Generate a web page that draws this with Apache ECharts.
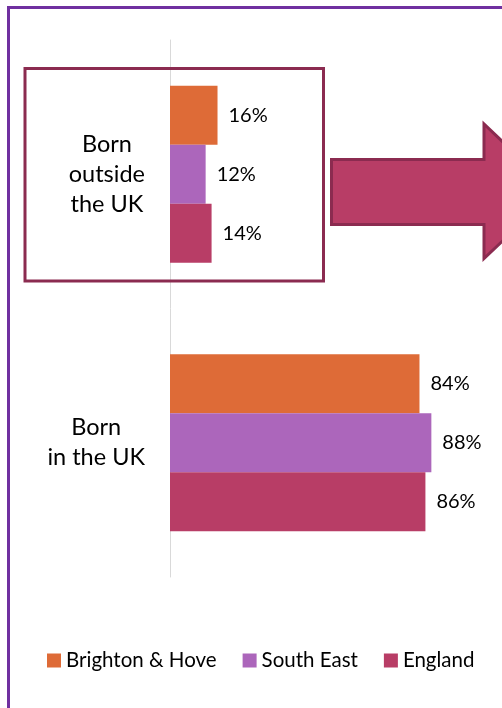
<!DOCTYPE html>
<html>
<head>
<meta charset="utf-8">
<script src="https://cdn.jsdelivr.net/npm/echarts@6/dist/echarts.min.js"></script>
<style>
  html, body { margin: 0; padding: 0; background: #fff; }
  #Chart1 { width: 502px; height: 708px; }
</style>
</head>
<body>
<div id="Chart1"></div>
<script>
const categories = ["Born outside the UK", "Born in the UK"];
const brightonHove = [16, 84];
const southEast = [12, 88];
const england = [14, 86];

const seriesNames = ["Brighton & Hove", "South East", "England"];
const colors = ["#DE6B37", "#AC66BB", "#B83D66"];

const myChart = echarts.init(document.getElementById("Chart1"));

// category labels: lines centred inside a right-aligned block
function catLabel(name) {
  const lines = name === "Born outside the UK"
    ? ["Born", "outside", "the UK"]
    : ["Born", "in the UK"];
  return lines.map((l) => "{c|" + l + "}").join("\n");
}

function barSeries(name, data, color) {
  return {
    name: name,
    type: "bar",
    data: data,
    barGap: "0%",
    barCategoryGap: "34%",
    itemStyle: { color: color },
    label: {
      show: true,
      position: "right",
      distance: 11,
      formatter: "{c}%",
      fontFamily: "Lato",
      fontSize: 20,
      color: "#000",
    },
  };
}

const option = {
  animation: false,
  backgroundColor: "#fff",
  textStyle: { fontFamily: "Lato" },
  grid: { left: 170, top: 40, width: 297, height: 537 },
  legend: {
    data: seriesNames,
    left: 47,
    top: 650,
    padding: 0,
    itemWidth: 14,
    itemHeight: 14,
    itemGap: 26,
    icon: "rect",
    textStyle: { fontFamily: "Lato", fontSize: 20.5, color: "#000" },
  },
  xAxis: {
    type: "value",
    min: 0,
    max: 100,
    show: false,
    splitLine: { show: false },
  },
  yAxis: {
    type: "category",
    data: categories,
    inverse: true,
    axisLine: { show: true, lineStyle: { color: "#D9D9D9", width: 1 } },
    axisTick: { show: false },
    axisLabel: {
      margin: 25,
      align: "right",
      formatter: catLabel,
      rich: {
        c: { align: "center", fontFamily: "Lato", fontSize: 23.5, lineHeight: 30, color: "#000" },
      },
    },
  },
  series: [
    barSeries(seriesNames[0], brightonHove, colors[0]),
    barSeries(seriesNames[1], southEast, colors[1]),
    barSeries(seriesNames[2], england, colors[2]),
  ],
  graphic: [
    {
      type: "rect",
      shape: { x: 8.5, y: 7.5, width: 700, height: 900 },
      style: { fill: "none", stroke: "#7030A0", lineWidth: 3 },
      silent: true,
    },
    {
      type: "rect",
      shape: { x: 25, y: 68.5, width: 298.5, height: 212.5 },
      style: { fill: "none", stroke: "#8B2B50", lineWidth: 3 },
      silent: true,
      z: 10,
    },
    {
      type: "polygon",
      shape: {
        points: [
          [331.5, 159.5], [484, 159.5], [484, 124], [555, 191.5],
          [484, 258.5], [484, 224.5], [331.5, 224.5],
        ],
      },
      style: { fill: "#B83D66", stroke: "#8B2B50", lineWidth: 3 },
      silent: true,
      z: 10,
    },
  ],
};

myChart.setOption(option);
</script>
</body>
</html>
